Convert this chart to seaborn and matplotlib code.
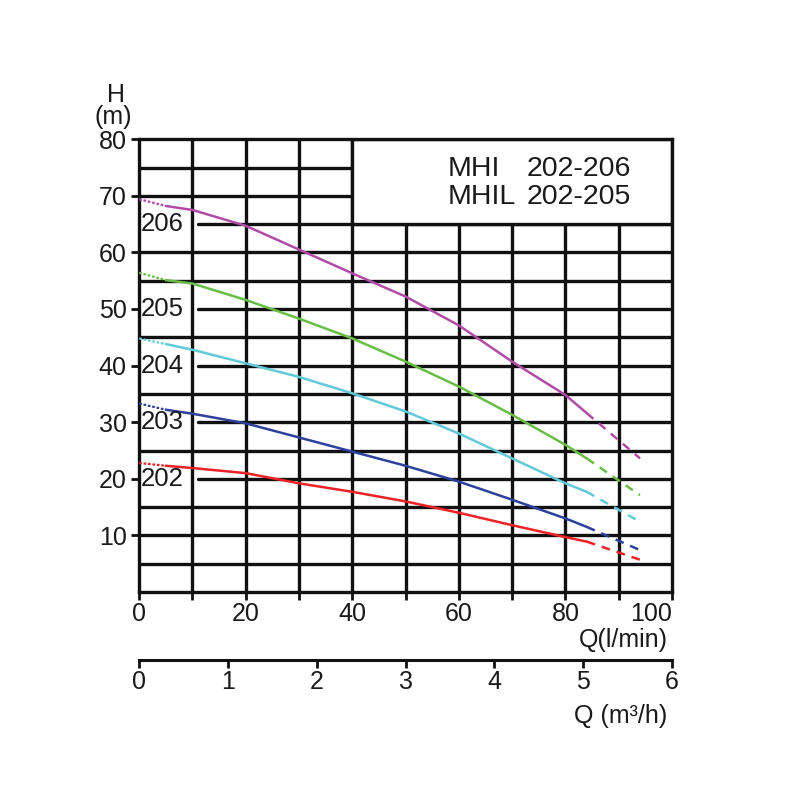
import matplotlib
matplotlib.use('Agg')
import matplotlib.pyplot as plt
import numpy as np
import pandas as pd
import seaborn as sns

# flow points in l/min, heads in m
flow = [0, 5, 10, 20, 30, 40, 50, 60, 70, 80, 84, 94]
head_206 = [69.4, 68.2, 67.5, 64.7, 60.5, 56.3, 52.2, 47.1, 40.7, 34.8, 31.6, 23.6]
head_205 = [56.4, 55.1, 54.5, 51.6, 48.3, 44.8, 40.7, 36.3, 31.3, 26.0, 23.6, 17.1]
head_204 = [44.8, 43.8, 42.8, 40.4, 38.0, 35.1, 31.9, 28.0, 23.6, 19.2, 17.7, 12.4]
head_203 = [33.3, 32.2, 31.5, 29.8, 27.3, 24.8, 22.3, 19.5, 16.3, 13.0, 11.5, 7.4]
head_202 = [22.8, 22.3, 21.9, 21.0, 19.2, 17.7, 16.0, 14.0, 11.8, 9.7, 8.9, 5.7]

models = ['206', '205', '204', '203', '202']
heads = [head_206, head_205, head_204, head_203, head_202]
colors = ['#b04ca6', '#68bd45', '#62c9d9', '#2d409c', '#ec2227']
label_levels = [65, 50, 40, 30, 20]

y_ticks = [10, 20, 30, 40, 50, 60, 70, 80]
x_ticks = [0, 20, 40, 60, 80, 100]
m3h_ticks = [0, 1, 2, 3, 4, 5, 6]

sns.set_style('white')
plt.rcParams['font.family'] = ['Liberation Sans', 'DejaVu Sans']

rows = []
for m, h in zip(models, heads):
    for i, (q, v) in enumerate(zip(flow, h)):
        if i <= 1:
            rows.append((m, 'start', q, v))
        if 1 <= i <= 10:
            rows.append((m, 'solid', q, v))
        if i >= 10:
            rows.append((m, 'dash', q, v))
df = pd.DataFrame(rows, columns=['model', 'part', 'Q', 'H'])

fig = plt.figure(figsize=(8, 8), dpi=100)
ax = fig.add_axes([0.174, 0.26, 0.666, 0.566])

lw_grid = 2.4
for x in range(10, 100, 10):
    ax.axvline(x, color='#111111', lw=lw_grid, zorder=1)
for y in range(5, 80, 5):
    xmin = 0.111 if y in label_levels else 0
    ax.axhline(y, xmin=xmin, color='#111111', lw=lw_grid, zorder=1)

for m, c in zip(models, colors):
    sub = df[df['model'] == m]
    sns.lineplot(data=sub[sub['part'] == 'start'], x='Q', y='H', color=c,
                 lw=1.6, ls=(0, (1.2, 0.8)), estimator=None, sort=False, ax=ax, zorder=3)
    sns.lineplot(data=sub[sub['part'] == 'solid'], x='Q', y='H', color=c,
                 lw=1.8, estimator=None, sort=False, ax=ax, zorder=3)
    sns.lineplot(data=sub[sub['part'] == 'dash'], x='Q', y='H', color=c,
                 lw=1.8, ls=(0, (3.5, 2.8)), estimator=None, sort=False, ax=ax, zorder=3)

for m, lvl in zip(models, label_levels):
    ax.text(0.3, lvl, m, fontsize=18.5, color='#1a1a1a', va='center', ha='left', zorder=4)

# title box top right
ax.add_patch(plt.Rectangle((40, 65), 60, 15, facecolor='white', edgecolor='#111111',
                           lw=lw_grid, zorder=2))
ax.text(57.8, 74.7, 'MHI', fontsize=20.5, va='center', ha='left', zorder=4, color='#1a1a1a')
ax.text(72.8, 74.7, '202-206', fontsize=20.5, va='center', ha='left', zorder=4, color='#1a1a1a')
ax.text(57.8, 69.8, 'MHIL', fontsize=20.5, va='center', ha='left', zorder=4, color='#1a1a1a')
ax.text(72.8, 69.8, '202-205', fontsize=20.5, va='center', ha='left', zorder=4, color='#1a1a1a')

ax.set_xlim(0, 100)
ax.set_ylim(0, 80)
ax.set_xticks(x_ticks)
ax.set_xticks(range(10, 100, 20), minor=True)
ax.set_yticks(y_ticks)
ax.set_xlabel('')
ax.set_ylabel('')
ax.tick_params(axis='both', which='both', direction='out', length=6, width=2,
               color='#111111', labelsize=18, labelcolor='#1a1a1a', pad=3,
               bottom=True, left=True)
ax.tick_params(axis='x', pad=1)
ax.get_xticklabels()[-1].set_horizontalalignment('right')
for s in ax.spines.values():
    s.set_visible(True)
    s.set_color('#111111')
    s.set_linewidth(lw_grid)

sec = ax.secondary_xaxis(-0.15, functions=(lambda q: q * 0.06, lambda v: v / 0.06))
sec.set_xticks(m3h_ticks)
sec.tick_params(direction='out', length=6, width=2, color='#111111',
                labelsize=18, labelcolor='#1a1a1a', pad=1)
sec.spines['bottom'].set_linewidth(2.2)
sec.spines['bottom'].set_color('#111111')

ax.text(0.992, -0.106, 'Q(l/min)', transform=ax.transAxes, fontsize=18,
        ha='right', va='center', color='#1a1a1a')
ax.text(0.992, -0.274, 'Q (m³/h)', transform=ax.transAxes, fontsize=18,
        ha='right', va='center', color='#1a1a1a')
ax.text(-0.043, 1.097, 'H', transform=ax.transAxes, fontsize=18,
        ha='center', va='center', color='#1a1a1a')
ax.text(-0.049, 1.049, '(m)', transform=ax.transAxes, fontsize=18,
        ha='center', va='center', color='#1a1a1a')

fig.savefig('out.png', dpi=100)
